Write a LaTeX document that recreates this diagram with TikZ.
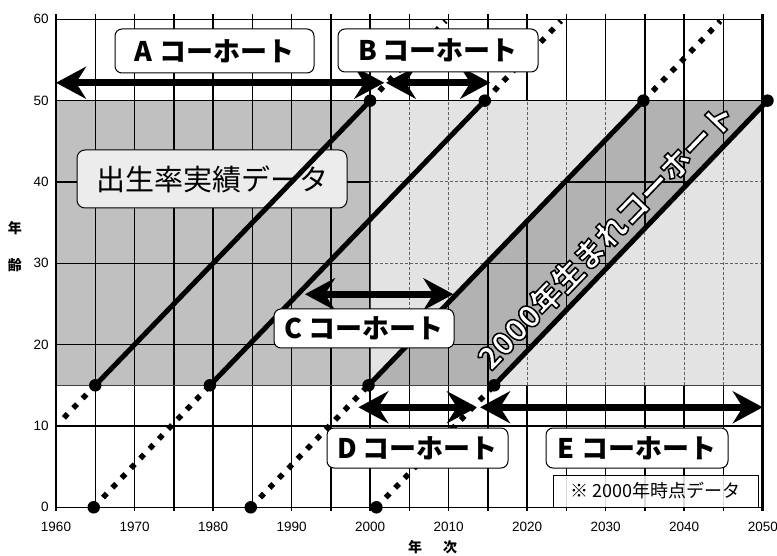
\documentclass[tikz,border=0pt]{standalone}
\usepackage{fontspec}
\setmainfont{Liberation Sans}
\newfontfamily\jp{Noto Sans CJK JP}
\usetikzlibrary{arrows.meta,calc}
\definecolor{grayreg}{HTML}{C0C0C0}
\definecolor{darkreg}{HTML}{B2B2B2}
\definecolor{lightreg}{HTML}{E3E3E3}
\definecolor{boxlight}{HTML}{ECECEC}
\newcommand{\strokedtext}[1]{\special{pdf:literal 2 Tr 1.5 w 0 G 1 j}#1\special{pdf:literal 0 Tr}}
\tikzset{
  cohortbox/.style={draw=black, line width=1pt, fill=white, rounded corners=7pt,
    font=\jp\bfseries\fontsize{27}{27}\selectfont, inner sep=0pt},
  cohline/.style={line width=5pt},
  dotline/.style={line width=5.5pt, dash pattern=on 5.5pt off 8pt},
  cohdot/.style={circle, fill=black, inner sep=0pt, minimum size=12.5pt},
  bigarrow/.style={line width=7pt,
    {Stealth[length=30pt,width=32pt,inset=10pt]}-{Stealth[length=30pt,width=32pt,inset=10pt]}},
  gridblack/.style={line width=1.5pt},
  griddash/.style={line width=1pt, gray!75!black, dash pattern=on 3pt off 2pt},
  ticklabel/.style={font=\fontsize{13.5}{14}\selectfont, inner sep=0pt},
  axistitle/.style={font=\jp\bfseries\fontsize{14}{14}\selectfont, inner sep=0pt},
  cohtext/.style={rotate=46, font=\jp\bfseries\fontsize{31}{31}\selectfont, inner sep=0pt},
}
\begin{document}
\begin{tikzpicture}
\useasboundingbox (0,0) rectangle (777pt,555pt);
\begin{scope}[x=7.853pt,y=8.133pt,shift={(56pt,47.7pt)}]
  % regions
  \fill[lightreg] (40,15) rectangle (90,50);
  \fill[darkreg] (39.8,15) -- (74.8,50) -- (90,50) -- (90,49.4) -- (55.8,15) -- cycle;
  \fill[grayreg] (0,15) rectangle (40,50);
  % black grid
  \begin{scope}
    \clip (0,-1) rectangle (90,15) (0,50) rectangle (90,61) (0,15) rectangle (40,50)
      (39.8,15) -- (55.8,15) -- (90,49.4) -- (90,50) -- (74.8,50) -- cycle;
    \foreach \i in {0,5,...,90} \draw[gridblack] (\i,-0.4) -- (\i,60.7);
    \foreach \j in {0,10,...,60} \draw[gridblack] (0,\j) -- (90,\j);
  \end{scope}
  % dashed grid inside light region
  \begin{scope}
    \clip (40,15) -- (40,50) -- (74.8,50) -- (39.8,15) -- cycle
          (55.8,15) -- (90,15) -- (90,49.4) -- cycle;
    \foreach \i in {40,45,...,90} \draw[griddash] (\i,15) -- (\i,50);
    \foreach \j in {20,30,40} \draw[griddash] (40,\j) -- (90,\j);
  \end{scope}
  \draw[line width=0.8pt, gray!50!black] (0,15) -- (90,15);
  \draw[line width=0.8pt, gray!50!black] (40,15) -- (40,50);
  % frame
  \draw[gridblack] (0,-0.4) -- (0,60.7);
  \draw[line width=3pt] (90,-0.4) -- (90,60.7);
  \draw[gridblack] (0,60) -- (90,60);
  \draw[gridblack] (0,50) -- (90,50);
  \draw[gridblack] (0,0) -- (90,0);
  % tick labels
  \foreach \j in {0,10,...,60} \node[ticklabel, anchor=east] (yl\j) at (-0.9,\j) {\j};
  \foreach \i in {0,10,...,90} {
    \pgfmathtruncatemacro{\yr}{1960+\i}
    \node[ticklabel] (xl\i) at (\i,-2.4) {\yr};
  }
  % coordinates
  \coordinate (l1a) at (5,15);    \coordinate (l1b) at (40,50);
  \coordinate (l2a) at (19.6,15); \coordinate (l2b) at (54.6,50);
  \coordinate (l3a) at (39.8,15); \coordinate (l3b) at (74.8,50);
  \coordinate (l4a) at (55.8,15); \coordinate (l4b) at (90.6,50);
  \coordinate (b1) at (4.8,0); \coordinate (b2) at (24.8,0); \coordinate (b3) at (40.8,0);
  \coordinate (s1) at (1,11);
  \coordinate (t1) at (49.6,59.8); \coordinate (t2) at (64.3,59.8); \coordinate (t3) at (84.6,59.8);
  \coordinate (aL) at (0,52.2);   \coordinate (aR) at (41.8,52.2);
  \coordinate (bL) at (42.0,52.2); \coordinate (bR) at (55.3,52.2);
  \coordinate (cL) at (31.7,26.2); \coordinate (cR) at (50.6,26.2);
  \coordinate (dL) at (38.5,12.3); \coordinate (dR) at (53.6,12.3);
  \coordinate (eL) at (54.0,12.3); \coordinate (eR) at (90.0,12.3);
\end{scope}
% data box (below the lines)
\node[draw=black, line width=1pt, fill=boxlight, rounded corners=8pt, minimum width=270pt,
  minimum height=58pt, font=\jp\fontsize{29}{29}\selectfont, inner sep=0pt] (jisseki)
  at (212pt,376pt) {出生率実績データ};
% dotted lines
\draw[dotline] (s1) -- (l1a);
\draw[dotline] (b1) -- (l2a);
\draw[dotline] (b2) -- (l3a);
\draw[dotline] (b3) -- (l4a);
\draw[dotline] (l1b) -- (t1);
\draw[dotline] (l2b) -- (t2);
\draw[dotline] (l3b) -- (t3);
% cohort lines
\draw[cohline] (l1a) -- (l1b);
\draw[cohline] (l2a) -- (l2b);
\draw[cohline] (l3a) -- (l3b);
\draw[cohline] (l4a) -- (l4b);
% dots
\foreach \c in {l1a,l1b,l2a,l2b,l3a,l3b,l4a,l4b,b1,b2,b3}
  \node[cohdot] (d\c) at (\c) {};
% arrows
\draw[bigarrow] (aL) -- (aR);
\draw[bigarrow] (bL) -- (bR);
\draw[bigarrow] (cL) -- (cR);
\draw[bigarrow] (dL) -- (dR);
\draw[bigarrow] (eL) -- (eR);
% cohort boxes
\node[cohortbox, minimum width=199pt, minimum height=44pt] (boxA) at (214.5pt,504pt) {A コーホート};
\node[cohortbox, minimum width=200pt, minimum height=43pt] (boxB) at (438pt,504.5pt) {B コーホート};
\node[cohortbox, minimum width=180pt, minimum height=39pt] (boxC) at (364pt,226.5pt) {C コーホート};
\node[cohortbox, minimum width=181pt, minimum height=40pt] (boxD) at (417.5pt,107pt) {D コーホート};
\node[cohortbox, minimum width=182pt, minimum height=40pt] (boxE) at (637pt,107pt) {E コーホート};
\node[draw=black, line width=0.8pt, fill=white, fill opacity=0.85, text opacity=1,
  minimum width=205pt, minimum height=32pt, inner sep=0pt,
  font=\jp\fontsize{18}{18}\selectfont] (note) at (655.5pt,64pt) {※ 2000年時点データ};
% 2000 cohort text: white with black outline
\node[cohtext, text=white] (cohort) at (606pt,319pt) {\strokedtext{2000年生まれコーホート}};
% axis titles
\node[axistitle] (ytA) at (15pt,327pt) {年};
\node[axistitle] (ytB) at (15pt,290pt) {齢};
\node[axistitle] (xtA) at (415pt,8pt) {年};
\node[axistitle] (xtB) at (450pt,8pt) {次};
\end{tikzpicture}
\end{document}
